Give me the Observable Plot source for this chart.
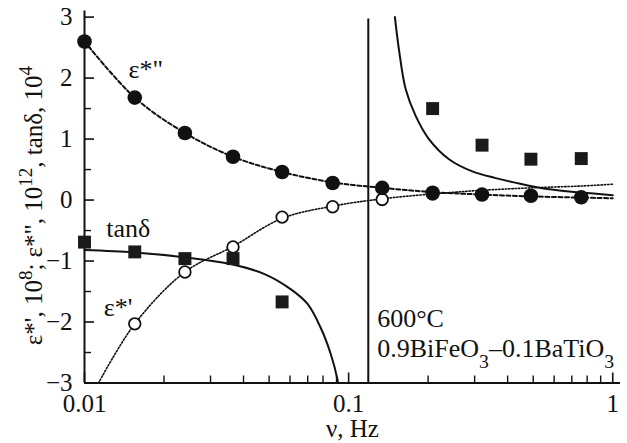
<!DOCTYPE html>
<html><head><meta charset="utf-8">
<script src="https://cdn.jsdelivr.net/npm/d3@7"></script>
<script src="https://cdn.jsdelivr.net/npm/@observablehq/plot@0.6"></script>
<style>body{margin:0;background:#fff} svg{display:block} svg text{font-family:'Liberation Serif','Times New Roman',serif}</style>
</head><body><div id="chart"></div>
<script>
// measured points (frequency, Hz)
const freq = [0.01, 0.0155, 0.024, 0.0365, 0.056, 0.087, 0.134, 0.208, 0.32, 0.49, 0.76];
const epsPP = [2.6, 1.68, 1.1, 0.71, 0.46, 0.28, 0.2, 0.12, 0.09, 0.07, 0.045];           // ε*'' ×10^12
const epsPFreq = [0.0155, 0.024, 0.0365, 0.056, 0.087, 0.134, 0.208];
const epsP = [-2.03, -1.18, -0.77, -0.28, -0.11, 0.01, 0.1];                                // ε*' ×10^8
const tanFreq = [0.01, 0.0155, 0.024, 0.0365, 0.056, 0.208, 0.32, 0.49, 0.76];
const tanD = [-0.69, -0.85, -0.96, -0.96, -1.67, 1.5, 0.9, 0.67, 0.68];                    // tanδ ×10^4

// fitted curves
const epsPPFitX = [0.01, 0.0155, 0.024, 0.0365, 0.056, 0.087, 0.134, 0.208, 0.32, 0.49, 0.76, 1.0];
const epsPPFitY = [2.6, 1.68, 1.1, 0.71, 0.46, 0.29, 0.2, 0.13, 0.09, 0.06, 0.04, 0.03];
const epsPFitX = [0.0113, 0.0155, 0.024, 0.0365, 0.056, 0.087, 0.134, 0.208, 0.32, 0.49, 0.76, 1.0];
const epsPFitY = [-3, -2.03, -1.18, -0.76, -0.3, -0.1, 0.02, 0.1, 0.16, 0.2, 0.23, 0.26];
const tanLowX = [0.01, 0.0155, 0.0252, 0.0357, 0.0478, 0.0603, 0.0698, 0.0783, 0.0855, 0.0906, 0.0911];
const tanLowY = [-0.82, -0.86, -0.95, -1.05, -1.21, -1.46, -1.70, -2.09, -2.52, -2.93, -3.0];
const tanHighX = [0.1497, 0.155, 0.1644, 0.1794, 0.2014, 0.2399, 0.294, 0.3605, 0.4227, 0.565, 0.756, 1.0];
const tanHighY = [3.0, 2.475, 1.82, 1.38, 1.0, 0.67, 0.47, 0.36, 0.29, 0.18, 0.125, 0.08];
const vlineX = [0.1187];

// ticks and labels
const xMajor = [0.01, 0.1, 1];
const xMinor = [0.02,0.03,0.04,0.05,0.06,0.07,0.08,0.09,0.2,0.3,0.4,0.5,0.6,0.7,0.8,0.9];
const yMajor = [-3, -2, -1, 0, 1, 2, 3];
const yMinor = [-2.5, -1.5, -0.5, 0.5, 1.5, 2.5];
const labelText = ["ε*\"", "tanδ", "ε*'", "600°C", "0.9BiFeO_{3}–0.1BaTiO_{3}"];
const labelX = [0.01468, 0.01208, 0.01183, 0.1283, 0.1283];
const labelY = [2.14, -0.47, -1.76, -1.94, -2.43];
const yLabel = "ε*', 10^{8}; ε*\", 10^{12}, tanδ, 10^{4}";
const xLabel = "ν, Hz";

const zip = (xs, ys) => xs.map((x, i) => ({x, y: ys[i]}));
const labels = labelText.map((t, i) => ({t, x: labelX[i], y: labelY[i]}));
const FS = 25;
const FF = "Liberation Serif";

const plot = Plot.plot({
  width: 627, height: 443,
  marginLeft: 84, marginRight: 7, marginTop: 10.5, marginBottom: 60.5,
  style: {fontFamily: FF, fontSize: FS + "px", color: "#111", background: "#fff"},
  x: {type: "log", domain: [0.01, 1.07]},
  y: {domain: [-3, 3.1]},
  marks: [
    Plot.axisX(xMajor, {tickSize: -10, tickPadding: 21, tickFormat: d => String(d), label: null, strokeWidth: 1.6, fontSize: FS, fontFamily: FF}),
    Plot.axisX(xMinor, {tickSize: -7, tickFormat: () => "", label: null, strokeWidth: 1.4}),
    Plot.axisY(yMajor, {tickSize: -10, tickPadding: 22, tickFormat: d => d < 0 ? "\u2212" + (-d) : String(d), label: null, strokeWidth: 1.6, fontSize: FS, fontFamily: FF}),
    Plot.axisY(yMinor, {tickSize: -7, tickFormat: () => "", label: null, strokeWidth: 1.4}),
    Plot.ruleX([0.01], {strokeWidth: 2}),
    Plot.ruleY([-3], {strokeWidth: 2}),
    Plot.ruleX(vlineX, {y1: -3, y2: 2.97, strokeWidth: 2}),
    Plot.line(zip(epsPFitX, epsPFitY), {x: "x", y: "y", curve: "catmull-rom", strokeWidth: 1.6, strokeDasharray: "1.5,1.8"}),
    Plot.line(zip(epsPPFitX, epsPPFitY), {x: "x", y: "y", curve: "catmull-rom", strokeWidth: 2, strokeDasharray: "4,2.5"}),
    Plot.line(zip(tanLowX, tanLowY), {x: "x", y: "y", curve: "catmull-rom", strokeWidth: 2}),
    Plot.line(zip(tanHighX, tanHighY), {x: "x", y: "y", curve: "catmull-rom", strokeWidth: 2}),
    Plot.dot(zip(epsPFreq, epsP), {x: "x", y: "y", r: 5.8, stroke: "#111", strokeWidth: 1.8, fill: "#fff"}),
    Plot.dot(zip(tanFreq, tanD), {x: "x", y: "y", r: 7.3, symbol: "square", fill: "#1a1a1a", stroke: "none"}),
    Plot.dot(zip(freq, epsPP), {x: "x", y: "y", r: 7.3, fill: "#111", stroke: "none"}),
    Plot.text(labels, {x: "x", y: "y", text: "t", textAnchor: "start", fontSize: 26, fontFamily: FF, fill: "#111"}),
    Plot.text([yLabel], {frameAnchor: "left", textAnchor: "middle", lineAnchor: "middle", rotate: -90, dx: -51, dy: 8.5, fontSize: FS, fontFamily: FF, fill: "#111"}),
    Plot.text([xLabel], {frameAnchor: "bottom", textAnchor: "middle", lineAnchor: "middle", dy: 45.5, fontSize: FS, fontFamily: FF, fill: "#111"})
  ]
});

// sub/superscripts as tspans
d3.select(plot).selectAll("text").each(function() {
  const t = this.textContent;
  if (!/[_^]\{/.test(t)) return;
  const el = d3.select(this); el.text(null);
  const re = /([_^])\{([^}]*)\}/g; let last = 0, m;
  while ((m = re.exec(t))) {
    if (m.index > last) el.append("tspan").text(t.slice(last, m.index));
    el.append("tspan").attr("baseline-shift", m[1] === "^" ? "super" : "sub").attr("font-size", "76%").text(m[2]);
    last = re.lastIndex;
  }
  if (last < t.length) el.append("tspan").text(t.slice(last));
});

document.getElementById("chart").append(plot);
</script>
</body></html>
